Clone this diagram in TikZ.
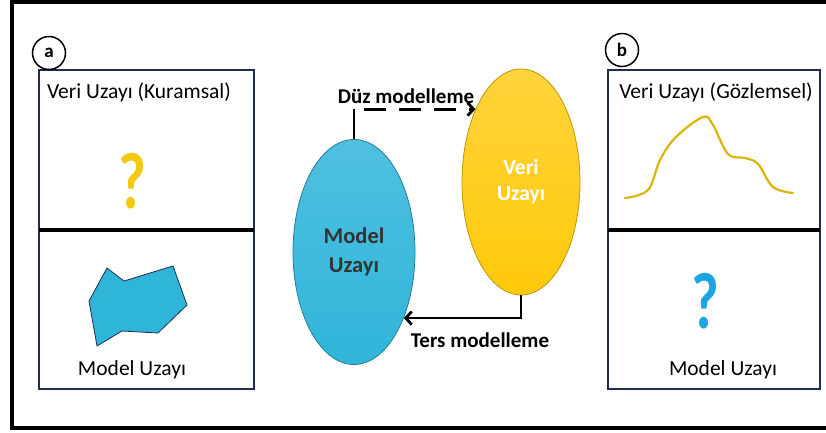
\documentclass[tikz,border=0pt]{standalone}
\usepackage{fontspec}
\setmainfont{Carlito}
\usepackage{tikz}
\usetikzlibrary{shapes.geometric,arrows.meta}
\definecolor{modelblue}{HTML}{30B5DA}
\definecolor{veriyellow}{HTML}{FFC90A}
\definecolor{boxnavy}{HTML}{1F2D4E}
\definecolor{qyellow}{HTML}{F2C811}
\definecolor{qblue}{HTML}{1BA6E2}
\tikzstyle{panel}=[draw=boxnavy,%
                   line width = 1.2pt]
\tikzstyle{divider}=[line width=4pt, black]
\tikzstyle{tag}=[draw,circle,line width=1.5pt,minimum size=33pt,inner sep=0pt,font=\bfseries\fontsize{19}{19}\selectfont]
\tikzstyle{caption}=[font=\fontsize{21.5}{23}\selectfont]
\tikzstyle{quest}=[font=\bfseries\fontsize{80}{80}\selectfont]
\tikzstyle{modelspace}=[draw=modelblue!70!black,%
                          ellipse,%
                          top color=modelblue!85!white,%
                          bottom color=modelblue,%
                          line width = 0.8pt,%
                          minimum width  = 122pt,%
                          minimum height = 225pt,%
                          align=center,%
                          text=black!80,%
                          font=\bfseries\fontsize{22.5}{29}\selectfont]
\tikzstyle{dataspace}=[draw=veriyellow!75!black,ellipse,top color=veriyellow!80!white,bottom color=veriyellow,line width=0.8pt,minimum width=118pt,minimum height=226pt,align=center,text=white,font=\bfseries\fontsize{21.5}{26}\selectfont]
\tikzstyle{link}=[line width=2.8pt,-{Straight Barb[length=6pt,width=13pt]}]
\tikzstyle{linklabel}=[font=\bfseries\fontsize{21}{22}\selectfont]

\begin{document}
\begin{tikzpicture}[x=1pt,y=-1pt]
            \useasboundingbox (0,0) rectangle (826,432);
            % outer frame (open on the right)
            \draw[line width=3.5pt] (826,2) -- (12,2) -- (12,428) -- (826,428);

            % panel a
            \draw[panel] (39,70) rectangle (254,389);
            \draw[divider] (39,230) -- (254,230);
            \node[tag,fill=white] (ta) at (49,53) {a};
            \node[caption] (ka) at (139,92) {Veri Uzayı (Kuramsal)};
            \node[quest,text=qyellow] (qa) at (132,181) {\scalebox{0.75}[1]{?}};
            \draw[draw=boxnavy,fill=modelblue,line width=0.8pt,line join=round]
                (107,268) -- (124,281) -- (173,266) -- (187,305) -- (158,333)
                -- (122,331) -- (97,346) -- (89,301) -- cycle;
            \node[caption] (ma) at (132,370) {Model Uzayı};

            % panel b
            \draw[panel] (608,70) rectangle (820,389);
            \draw[divider] (608,230) -- (820,230);
            \node[tag,fill=white] (tb) at (622,50) {b};
            \node[caption] (kb) at (716,92) {Veri Uzayı (Gözlemsel)};
            \draw[qyellow!90!black,line width=2.2pt,line cap=round] plot[smooth,tension=0.6] coordinates
                {(625,198) (648,190) (660,160) (676,137) (703,117) (713,125)
                 (728,154) (745,158) (758,164) (773,187) (793,193)};
            \node[quest,text=qblue] (qb) at (705,301) {\scalebox{0.75}[1]{?}};
            \node[caption] (mb) at (723,370) {Model Uzayı};

            % middle
            \node[modelspace] (model) at (354,252) {Model\\Uzayı};
            \node[dataspace] (veri) at (521,182) {Veri\\Uzayı};
            \node[linklabel] (duz) at (406,96) {Düz modelleme};
            \node[linklabel] (ters) at (480,340) {Ters modelleme};
            \draw[line width=2.8pt] (model.north) -- (model.north |- veri.122) coordinate (fwd);
            \draw[link,dash pattern=on 22pt off 13pt,dash phase=-10pt] (fwd) -- (veri.122);
            \draw[link] (veri.south) |- (model.307);
  \end{tikzpicture}
\end{document}
